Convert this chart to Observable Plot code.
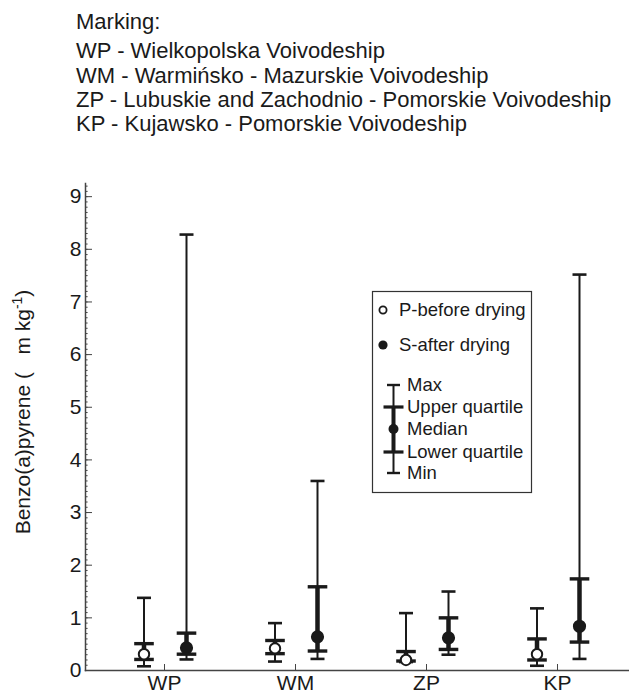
<!DOCTYPE html>
<html>
<head>
<meta charset="utf-8">
<script src="https://cdn.jsdelivr.net/npm/d3@7"></script>
<script src="https://cdn.jsdelivr.net/npm/@observablehq/plot@0.6"></script>
<style>
  html, body { margin: 0; padding: 0; background: #fff; }
  #wrap { position: relative; width: 629px; height: 693px; overflow: hidden; font-family: "Liberation Sans", Arial, sans-serif; }
  #header, #legend { position: absolute; left: 0; top: 0; }
  #chart { position: absolute; left: 0; top: 150px; }
</style>
</head>
<body>
<div id="wrap">
  <svg id="header" width="629" height="150"></svg>
  <div id="chart"></div>
  <svg id="legend" width="629" height="693" style="pointer-events:none"></svg>
</div>
<script>
// ---- data ----
const categories = ["WP", "WM", "ZP", "KP"];
const headerLines = [
  "Marking:",
  "WP - Wielkopolska Voivodeship",
  "WM - Warmińsko - Mazurskie Voivodeship",
  "ZP - Lubuskie and Zachodnio - Pomorskie Voivodeship",
  "KP - Kujawsko - Pomorskie Voivodeship"
];
const yTicks = [0, 1, 2, 3, 4, 5, 6, 7, 8, 9];
// P - before drying
const pMin    = [0.08, 0.17, 0.16, 0.09];
const pQ1     = [0.21, 0.32, 0.18, 0.20];
const pMedian = [0.31, 0.42, 0.20, 0.31];
const pQ3     = [0.51, 0.57, 0.36, 0.60];
const pMax    = [1.38, 0.90, 1.09, 1.18];
// S - after drying
const sMin    = [0.21, 0.22, 0.30, 0.22];
const sQ1     = [0.31, 0.37, 0.40, 0.54];
const sMedian = [0.43, 0.64, 0.62, 0.84];
const sQ3     = [0.71, 1.59, 1.00, 1.74];
const sMax    = [8.28, 3.60, 1.50, 7.52];
const seriesNames = ["P-before drying", "S-after drying"];
const statNames = ["Max", "Upper quartile", "Median", "Lower quartile", "Min"];

const build = (min, q1, med, q3, max) => categories.map((c, i) => ({cat: c, min: min[i], q1: q1[i], med: med[i], q3: q3[i], max: max[i]}));
const P = build(pMin, pQ1, pMedian, pQ3, pMax);
const S = build(sMin, sQ1, sMedian, sQ3, sMax);
const minorTicks = d3.range(0, 93).map(i => i / 10);

const INK = "#1a1a1a";
const hline = { draw(ctx, size) { const w = Math.sqrt(size / Math.PI); ctx.moveTo(-w, 0); ctx.lineTo(w, 0); } };

function boxMarks(data, dx, filled) {
  return [
    Plot.ruleX(data, {x: "cat", y1: "min", y2: "max", dx, stroke: INK, strokeWidth: 2}),
    Plot.ruleX(data, {x: "cat", y1: "q1", y2: "q3", dx, stroke: INK, strokeWidth: 4.5}),
    Plot.dot(data, {x: "cat", y: "max", dx, symbol: hline, r: 7, fill: "none", stroke: INK, strokeWidth: 2.6}),
    Plot.dot(data, {x: "cat", y: "min", dx, symbol: hline, r: 7, fill: "none", stroke: INK, strokeWidth: 2.6}),
    Plot.dot(data, {x: "cat", y: "q3", dx, symbol: hline, r: 9.8, fill: "none", stroke: INK, strokeWidth: 3.4}),
    Plot.dot(data, {x: "cat", y: "q1", dx, symbol: hline, r: 9.8, fill: "none", stroke: INK, strokeWidth: 3.4}),
    Plot.dot(data, {x: "cat", y: "med", dx, r: filled ? 5.6 : 5.2, fill: filled ? INK : "#fff", stroke: INK, strokeWidth: 2})
  ];
}

const chart = Plot.plot({
  width: 629,
  height: 543,
  marginTop: 33,
  marginBottom: 23,
  marginLeft: 85,
  marginRight: 0,
  style: {fontFamily: "Liberation Sans, Arial, sans-serif", background: "transparent", color: INK},
  x: {type: "point", domain: categories, range: [163.3, 558.3], padding: 0, axis: null},
  y: {domain: [0, 9.25], axis: null},
  marks: [
    Plot.axisY({ticks: minorTicks, tickSize: -2.6, tickFormat: () => "", label: null, anchor: "left", stroke: "#444"}),
    Plot.axisY({ticks: yTicks, tickSize: -7, tickFormat: () => "", label: null, anchor: "left", stroke: "#444"}),
    Plot.axisY({ticks: yTicks, tickSize: 0, tickPadding: 4, tickFormat: d3.format("d"), label: null, anchor: "left", fontSize: 21, fill: INK}),
    Plot.axisX({tickSize: -6, tickFormat: () => "", label: null, anchor: "bottom", stroke: "#444"}),
    Plot.axisX({tickSize: 0, tickPadding: 5, label: null, anchor: "bottom", fontSize: 21, fill: INK}),
    Plot.frame({anchor: "left", stroke: "#444", strokeWidth: 1.5}),
    Plot.frame({anchor: "bottom", stroke: "#444", strokeWidth: 1.5}),
    ...boxMarks(P, -20.5, false),
    ...boxMarks(S, 22, true)
  ]
});
document.getElementById("chart").appendChild(chart);

// y-axis title with superscript
const svgC = d3.select(chart);
const yl = svgC.append("text")
  .attr("transform", "translate(23,262) rotate(-90)")
  .attr("text-anchor", "middle")
  .attr("dy", "0.35em")
  .attr("font-size", 21)
  .attr("fill", INK)
  .style("white-space", "pre")
  .attr("font-family", "Liberation Sans, Arial, sans-serif");
yl.append("tspan").text("Benzo(a)pyrene (   m kg");
yl.append("tspan").attr("baseline-shift", "super").attr("font-size", 14).text("-1");
yl.append("tspan").text(")");

// header
const hdr = d3.select("#header");
const baselines = [29, 58, 82.5, 107, 131];
headerLines.forEach((t, i) => {
  hdr.append("text").attr("x", 76).attr("y", baselines[i])
    .attr("font-size", 22).attr("fill", INK)
    .attr("font-family", "Liberation Sans, Arial, sans-serif").text(t);
});

// legend
const lg = d3.select("#legend");
const ff = "Liberation Sans, Arial, sans-serif";
lg.append("rect").attr("x", 372.5).attr("y", 291.5).attr("width", 159).attr("height", 201)
  .attr("fill", "#fff").attr("stroke", "#333").attr("stroke-width", 1.2);
lg.append("circle").attr("cx", 383).attr("cy", 310).attr("r", 3.6).attr("fill", "#fff").attr("stroke", INK).attr("stroke-width", 1.8);
lg.append("circle").attr("cx", 383).attr("cy", 345).attr("r", 4.6).attr("fill", INK);
[[seriesNames[0], 310], [seriesNames[1], 345]].forEach(([t, y]) => {
  lg.append("text").attr("x", 399).attr("y", y).attr("dy", "0.35em").attr("font-size", 18.5)
    .attr("font-family", ff).attr("fill", INK).text(t);
});
const gy = [385, 407, 429, 452, 473];
lg.append("line").attr("x1", 393.5).attr("x2", 393.5).attr("y1", gy[0]).attr("y2", gy[4]).attr("stroke", INK).attr("stroke-width", 2);
lg.append("line").attr("x1", 393.5).attr("x2", 393.5).attr("y1", gy[1]).attr("y2", gy[3]).attr("stroke", INK).attr("stroke-width", 4);
[[gy[0], 6.5, 2.4], [gy[1], 10, 3.2], [gy[3], 10, 3.2], [gy[4], 6.5, 2.4]].forEach(([y, w, sw]) => {
  lg.append("line").attr("x1", 393.5 - w).attr("x2", 393.5 + w).attr("y1", y).attr("y2", y).attr("stroke", INK).attr("stroke-width", sw);
});
lg.append("circle").attr("cx", 393.5).attr("cy", gy[2]).attr("r", 5).attr("fill", INK);
statNames.forEach((t, i) => {
  lg.append("text").attr("x", 407).attr("y", gy[i]).attr("dy", "0.35em").attr("font-size", 18.5)
    .attr("font-family", ff).attr("fill", INK).text(t);
});
</script>
</body>
</html>
